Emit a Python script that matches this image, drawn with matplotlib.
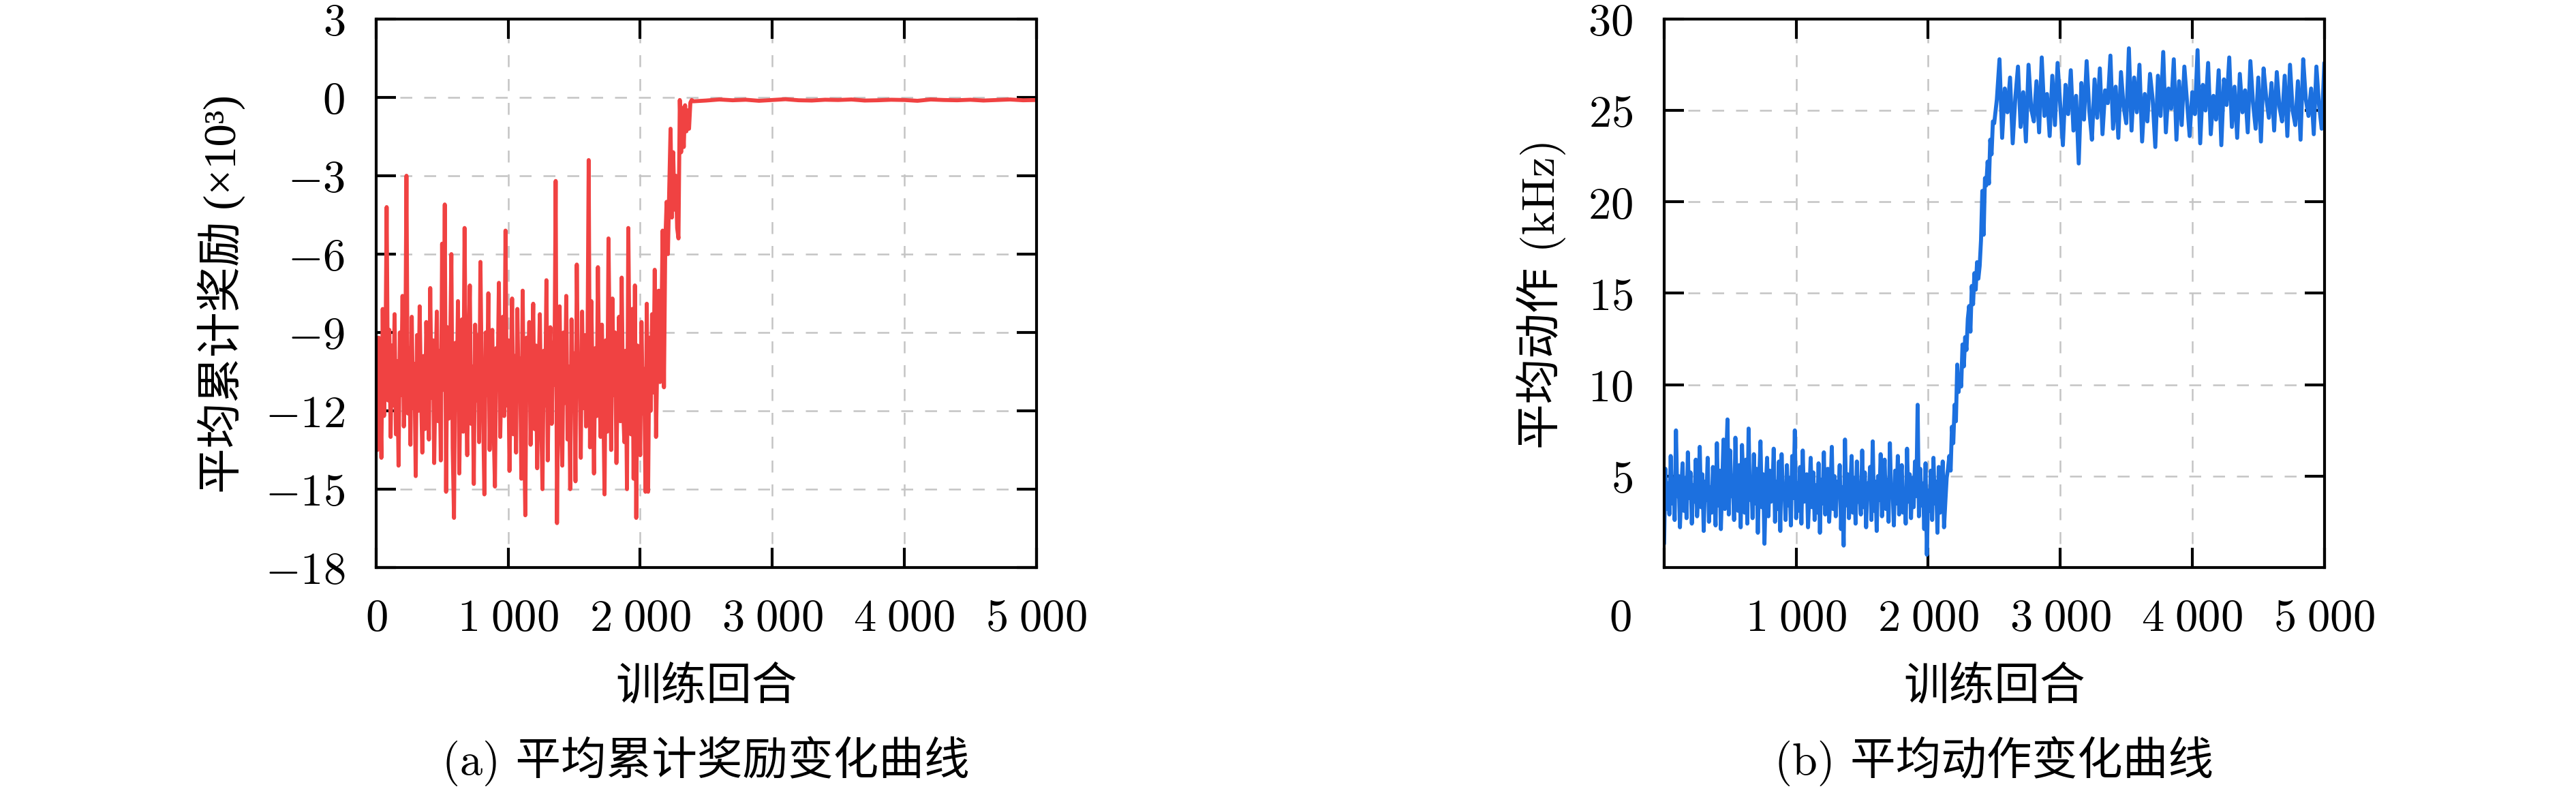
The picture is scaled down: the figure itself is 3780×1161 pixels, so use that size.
import numpy as np
import matplotlib
matplotlib.use("Agg")
import matplotlib.pyplot as plt
from matplotlib.ticker import FuncFormatter
from matplotlib.transforms import offset_copy

plt.rcParams['font.family'] = ['cmr10', 'Noto Sans CJK SC', 'DejaVu Serif']
plt.rcParams['mathtext.fontset'] = 'cm'
plt.rcParams['axes.unicode_minus'] = True

# average cumulative reward (x10^3), one value every 10 episodes up to 2390
reward_early = [
    -12.8, -13.5, -9.2, -11.0, -13.8, -8.1, -12.2, -10.4, -4.2, -11.6, -8.9, -13.0,
    -9.5, -11.8, -8.3, -12.9, -10.1, -14.1, -9.0, -11.4, -7.6, -12.6, -10.8, -3.0,
    -12.1, -9.6, -13.3, -8.4, -11.9, -10.2, -14.5, -9.1, -12.0, -8.0, -11.3, -13.6,
    -9.9, -12.7, -8.6, -10.9, -13.1, -7.3, -11.5, -9.3, -14.0, -10.6, -8.2, -12.4,
    -9.7, -13.9, -5.6, -11.2, -4.1, -15.1, -8.8, -12.3, -10.0, -6.0, -13.4, -16.1,
    -9.4, -11.7, -7.8, -14.4, -10.5, -8.5, -12.8, -5.0, -11.1, -13.7, -9.8, -7.2,
    -12.5, -10.3, -14.8, -8.7, -11.6, -9.1, -13.2, -6.3, -10.7, -12.0, -15.2, -9.0,
    -11.4, -7.5, -13.5, -10.1, -8.9, -12.6, -14.9, -9.6, -11.0, -7.1, -13.0, -10.5,
    -8.4, -12.2, -5.1, -11.8, -9.3, -14.3, -10.8, -7.7, -12.9, -9.9, -13.6, -8.1,
    -11.5, -10.0, -14.6, -7.4, -12.4, -16.0, -9.2, -11.3, -8.6, -13.3, -10.4, -7.9,
    -12.7, -9.5, -14.2, -10.9, -8.3, -12.1, -15.0, -9.7, -11.8, -7.0, -13.9, -10.2,
    -8.8, -12.5, -9.4, -11.0, -3.2, -16.3, -10.6, -8.0, -12.3, -14.1, -9.0, -11.7,
    -7.6, -13.1, -10.3, -15.0, -8.5, -12.0, -9.8, -14.7, -6.4, -11.2, -10.0, -13.8,
    -8.2, -11.9, -9.1, -12.6, -10.5, -2.4, -13.4, -7.8, -11.1, -14.4, -9.6, -12.2,
    -6.5, -10.8, -13.0, -8.7, -11.5, -15.2, -9.3, -12.8, -5.4, -10.1, -13.5, -7.7,
    -11.4, -9.0, -14.0, -10.6, -8.4, -12.4, -6.9, -11.8, -13.2, -9.7, -15.0, -5.0,
    -10.3, -12.9, -8.1, -14.6, -7.2, -16.1, -9.5, -11.6, -13.7, -8.6, -12.1, -10.4,
    -15.1, -7.9, -15.1, -9.2, -12.0, -8.3, -11.3, -6.6, -13.0, -9.8, -7.4, -10.9,
    -9.0, -5.1, -11.1, -5.6, -4.0, -6.0, -3.5, -1.2, -4.6, -2.1, -4.3, -3.0,
    -5.0, -5.4, -0.1, -2.1, -0.4, -1.9, -0.3, -1.3, -0.5, -1.2, -0.2, -0.1,
]
# after convergence, one value every 100 episodes from 2400 to 5000
reward_late = [
    -0.15, -0.12, -0.08, -0.11, -0.09, -0.13, -0.10, -0.07, -0.11, -0.12, -0.09, -0.10,
    -0.08, -0.12, -0.11, -0.09, -0.10, -0.13, -0.08, -0.10, -0.11, -0.09, -0.12, -0.10,
    -0.08, -0.11, -0.10,
]

# average action (kHz), one value every 10 episodes up to 2490
action_early = [
    1.3, 5.4, 3.2, 4.6, 2.9, 6.1, 3.5, 4.8, 2.6, 7.5, 3.9, 5.0,
    2.2, 4.3, 5.7, 3.1, 4.9, 2.7, 6.3, 3.8, 5.2, 2.4, 4.5, 3.6,
    5.9, 2.8, 4.1, 6.6, 3.3, 5.1, 2.0, 4.7, 3.7, 6.0, 2.5, 4.4,
    3.0, 5.5, 4.0, 2.3, 6.8, 3.4, 5.3, 2.1, 4.6, 7.0, 3.2, 5.8,
    8.1, 2.9, 6.4, 3.9, 5.0, 2.6, 7.1, 4.2, 3.1, 5.6, 2.2, 6.7,
    4.5, 3.0, 5.9, 2.4, 7.6, 3.7, 4.9, 2.7, 6.2, 3.5, 5.4, 1.9,
    4.8, 6.9, 3.3, 5.1, 1.3, 4.3, 6.0, 2.8, 5.3, 3.6, 4.1, 6.5,
    2.5, 4.7, 3.2, 5.8, 2.0, 6.2, 3.9, 4.4, 2.6, 5.6, 3.4, 4.9,
    2.3, 6.1, 3.8, 7.5, 2.7, 4.6, 3.1, 5.5, 2.4, 6.4, 3.6, 4.2,
    5.1, 2.2, 4.0, 6.0, 3.3, 5.2, 2.6, 4.5, 3.0, 5.7, 1.9, 4.8,
    3.5, 6.3, 2.9, 4.3, 5.4, 2.5, 4.0, 6.6, 3.2, 5.0, 2.8, 4.7,
    3.9, 5.6, 2.1, 4.4, 1.2, 7.0, 3.4, 5.1, 2.7, 4.2, 6.1, 3.0,
    4.9, 2.4, 5.8, 3.6, 4.1, 2.9, 6.4, 3.3, 5.2, 2.2, 4.6, 3.8,
    5.5, 2.6, 6.9, 3.1, 4.7, 2.0, 5.0, 3.7, 6.2, 2.8, 4.3, 5.9,
    3.2, 4.8, 2.5, 6.8, 3.9, 4.4, 2.3, 5.3, 3.5, 6.1, 2.9, 4.6,
    5.6, 3.0, 4.2, 2.4, 6.5, 3.6, 5.1, 2.7, 4.9, 3.3, 5.8, 3.9,
    8.9, 2.8, 5.4, 3.4, 4.6, 2.1, 5.7, 0.7, 4.2, 3.1, 5.3, 2.6,
    6.0, 3.5, 4.7, 1.9, 5.5, 3.0, 4.4, 5.8, 2.2, 3.6, 4.9, 5.4,
    6.1, 5.3, 7.7, 6.8, 8.9, 8.0, 11.1, 9.6, 10.4, 9.9, 12.2, 11.0,
    12.6, 11.9, 13.6, 14.3, 12.9, 15.4, 14.4, 16.1, 15.2, 16.7, 15.8, 16.5,
    17.9, 20.6, 18.2, 21.3, 20.9, 22.2, 21.0, 23.4, 22.6, 24.4,
]
# plateau, one value every 20 episodes from 2500 to 5000
action_late = [
    24.3, 25.6, 27.8, 23.5, 26.2, 24.9, 26.8, 23.2, 25.7, 27.4, 24.1, 26.0,
    23.3, 27.5, 25.1, 24.4, 26.6, 23.8, 27.9, 24.7, 25.9, 23.6, 26.9, 24.2,
    27.6, 25.3, 23.1, 26.4, 24.8, 27.2, 23.9, 25.8, 22.1, 26.5, 24.5, 27.7,
    25.0, 23.4, 26.7, 24.6, 27.3, 23.7, 26.1, 25.4, 28.0, 24.0, 26.3, 23.5,
    27.1, 25.2, 24.3, 28.4, 23.9, 26.8, 24.9, 27.5, 23.3, 25.9, 24.4, 27.0,
    25.6, 23.0, 26.9, 24.7, 28.2, 23.8, 26.2, 25.1, 27.8, 23.4, 26.6, 24.2,
    27.4, 25.5, 23.6, 26.0, 24.8, 28.3, 23.2, 26.4, 25.0, 27.6, 23.7, 25.8,
    24.5, 27.2, 23.1, 26.7, 25.3, 27.9, 24.1, 26.3, 23.5, 27.0, 24.9, 26.1,
    23.8, 27.7, 25.4, 24.0, 26.8, 23.3, 27.3, 25.7, 24.6, 26.5, 23.9, 27.1,
    25.2, 24.4, 26.9, 23.6, 27.5, 25.0, 24.2, 26.6, 23.4, 27.8, 25.6, 24.7,
    26.2, 23.7, 27.4, 25.3, 24.0, 27.6,
]

x_ticks = [0, 1000, 2000, 3000, 4000, 5000]
reward_ticks = [-18, -15, -12, -9, -6, -3, 0, 3]
action_ticks = [5, 10, 15, 20, 25, 30]

red = '#F04242'
blue = '#1C70DF'
fs = 16


def fmt(v, pos=None):
    v = int(round(v))
    if abs(v) >= 1000:
        return r'$%d\;%03d$' % (v // 1000, v % 1000)
    return '$%d$' % v


def style(ax):
    ax.set_xlim(0, 5000)
    ax.set_xticks(x_ticks)
    ax.tick_params(direction='in', top=True, right=True, length=7, width=1.0,
                   labelsize=fs, pad=11)
    for s in ax.spines.values():
        s.set_linewidth(1.0)
    ax.grid(True, color='#c4c4c4', linewidth=0.6, linestyle=(0, (7, 7)))
    ax.set_axisbelow(True)
    ax.yaxis.set_major_formatter(FuncFormatter(fmt))


fig = plt.figure(figsize=(12.6, 3.8733), dpi=300)

# (a) reward
ax1 = fig.add_axes([0.1460, 0.2823, 0.2563, 0.6928])
ep1 = np.concatenate([np.arange(len(reward_early)) * 10,
                      2400 + np.arange(len(reward_late)) * 100])
ax1.plot(ep1, reward_early + reward_late, color=red, lw=1.4,
         solid_joinstyle='round', solid_capstyle='round')
style(ax1)
ax1.set_ylim(-18, 3)
ax1.set_yticks(reward_ticks)
ax1.xaxis.set_major_formatter(FuncFormatter(fmt))
ax1.set_xlabel('训练回合', fontsize=fs)
ax1.xaxis.set_label_coords(0.5, -0.217)
ax1.xaxis.label.set_va('center')
# cmr10 has no proper superscript three, so this label uses a serif with one
ax1.set_ylabel('平均累计奖励 (×10³)', fontsize=fs,
               family=['Liberation Serif', 'Noto Sans CJK SC'])
ax1.yaxis.set_label_coords(-0.235, 0.5)
ax1.yaxis.label.set_va('center')

# (b) action
ax2 = fig.add_axes([0.6460, 0.2823, 0.2563, 0.6928])
ep2 = np.concatenate([np.arange(len(action_early)) * 10,
                      2500 + np.arange(len(action_late)) * 20])
ax2.plot(ep2, action_early + action_late, color=blue, lw=1.4,
         solid_joinstyle='round', solid_capstyle='round')
style(ax2)
ax2.set_ylim(0, 30)
ax2.set_yticks(action_ticks)
ax2.xaxis.set_major_formatter(FuncFormatter(lambda v, p: '' if v == 0 else fmt(v)))
# shared origin label sits off the corner
ax2.text(0, 0, '$0$', fontsize=fs, ha='center', va='top',
         transform=offset_copy(ax2.transAxes, fig, x=-15.6, y=-11, units='points'))
ax2.set_xlabel('训练回合', fontsize=fs)
ax2.xaxis.set_label_coords(0.5, -0.217)
ax2.xaxis.label.set_va('center')
ax2.set_ylabel('平均动作 (kHz)', fontsize=fs)
ax2.yaxis.set_label_coords(-0.186, 0.5)
ax2.yaxis.label.set_va('center')

# captions
fig.text(0.2741, 0.0387, '(a) 平均累计奖励变化曲线', fontsize=fs, ha='center', va='center')
fig.text(0.7741, 0.0387, '(b) 平均动作变化曲线', fontsize=fs, ha='center', va='center')

fig.savefig('out.png', dpi=300)
